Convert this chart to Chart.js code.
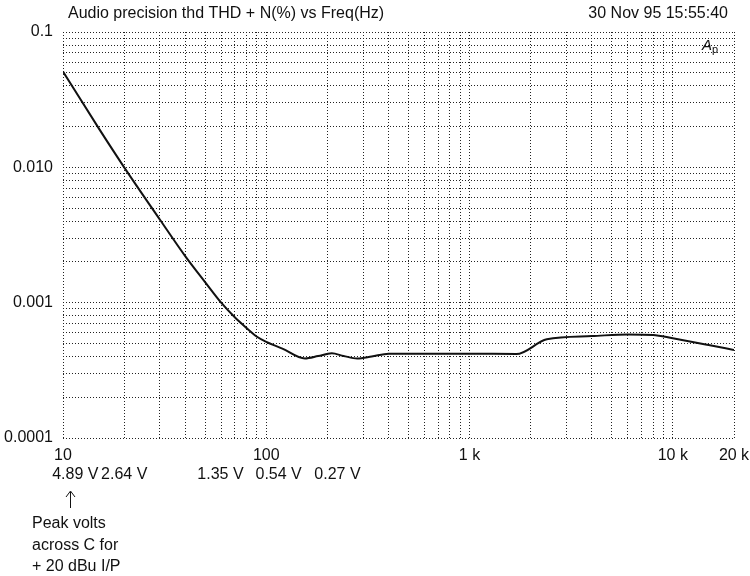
<!DOCTYPE html>
<html>
<head>
<meta charset="utf-8">
<script src="https://cdn.jsdelivr.net/npm/chart.js@4.4.1/dist/chart.umd.min.js"></script>
<style>
  html, body { margin: 0; padding: 0; background: #fff; }
  #wrap { width: 750px; height: 576px; position: relative; }
</style>
</head>
<body>
<div id="wrap"><canvas id="c" width="750" height="576"></canvas></div>
<script>
// ---- Data ----
const freqs = [10, 15, 20, 30, 40, 50, 60, 70, 80, 90, 100, 120, 155, 180, 210, 240, 280, 330, 400, 600, 1000, 1700, 2400, 4000, 6000, 8000, 10000, 15000, 20000];
const thdN  = [0.051, 0.0194, 0.0100, 0.0041, 0.0022, 0.00142, 0.00100, 0.00078, 0.00065, 0.00056, 0.000514, 0.000458, 0.000387, 0.000403, 0.000422, 0.000404, 0.000387, 0.000400, 0.000420, 0.000420, 0.000420, 0.000417, 0.000536, 0.000566, 0.000583, 0.000578, 0.000545, 0.000486, 0.000447];

const xTickValues = [10, 100, 1000, 10000, 20000];
const xTickLabels = ['10', '100', '1 k', '10 k', '20 k'];
const yTickValues = [0.1, 0.01, 0.001, 0.0001];
const yTickLabels = ['0.1', '0.010', '0.001', '0.0001'];

const voltLabels = ['4.89 V', '2.64 V', '1.35 V', '0.54 V', '0.27 V'];
const voltAnchorFreqs = [11.5, 20, 59.5, 115, 224];

const titleLeft = 'Audio precision thd THD + N(%) vs Freq(Hz)';
const titleRight = '30 Nov 95 15:55:40';
const noteLines = ['Peak volts', 'across C for', '+ 20 dBu I/P'];

const FONT = '"Liberation Sans", Arial, Helvetica, sans-serif';
const FS = 16;

function logTicks(min, max) {
  const out = [];
  const e0 = Math.floor(Math.log10(min)), e1 = Math.ceil(Math.log10(max));
  for (let e = e0; e <= e1; e++) {
    for (let m = 1; m <= 9; m++) {
      const v = Number((m * Math.pow(10, e)).toPrecision(6));
      if (v >= min * 0.9999 && v <= max * 1.0001) out.push({ value: v });
    }
  }
  if (!out.some(t => Math.abs(t.value - max) / max < 1e-6)) out.push({ value: max });
  return out;
}
function findLabel(v, vals, labels) {
  for (let i = 0; i < vals.length; i++) {
    if (Math.abs(v - vals[i]) / vals[i] < 1e-6) return labels[i];
  }
  return '';
}

const textPlugin = {
  id: 'texts',
  afterDraw(chart) {
    const ctx = chart.ctx;
    const xs = chart.scales.x;
    const area = chart.chartArea;
    ctx.save();
    ctx.fillStyle = '#111';
    ctx.textBaseline = 'middle';
    ctx.font = FS + 'px ' + FONT;
    ctx.textAlign = 'left';
    ctx.fillText(titleLeft, 68, 14);
    ctx.textAlign = 'right';
    ctx.fillText(titleRight, 728, 14);

    // A_p mark
    ctx.textAlign = 'left';
    ctx.textBaseline = 'alphabetic';
    ctx.font = 'italic 15px ' + FONT;
    ctx.fillText('A', area.right - 32, area.top + 18);
    ctx.font = '11px ' + FONT;
    ctx.fillText('p', area.right - 22, area.top + 21);

    // voltage row
    ctx.font = FS + 'px ' + FONT;
    ctx.textAlign = 'center';
    ctx.textBaseline = 'middle';
    for (let i = 0; i < voltLabels.length; i++) {
      ctx.fillText(voltLabels[i], xs.getPixelForValue(voltAnchorFreqs[i]), area.bottom + 37);
    }

    // arrow
    const ax = Math.round(xs.getPixelForValue(10.8)) + 0.5;
    ctx.strokeStyle = '#111';
    ctx.lineWidth = 1;
    ctx.beginPath();
    ctx.moveTo(ax, area.bottom + 70);
    ctx.lineTo(ax, area.bottom + 54);
    ctx.moveTo(ax - 4.5, area.bottom + 59);
    ctx.lineTo(ax, area.bottom + 53);
    ctx.lineTo(ax + 4.5, area.bottom + 59);
    ctx.stroke();

    // note
    ctx.textAlign = 'left';
    ctx.fillText(noteLines[0], 32, area.bottom + 86);
    ctx.fillText(noteLines[1], 32, area.bottom + 108);
    ctx.fillText(noteLines[2], 32, area.bottom + 129);
    ctx.restore();
  }
};

const gridCommon = {
  color: '#222',
  lineWidth: 1,
  drawTicks: false
};

new Chart(document.getElementById('c'), {
  type: 'line',
  data: {
    datasets: [{
      data: freqs.map((f, i) => ({ x: f, y: thdN[i] })),
      borderColor: '#111',
      borderWidth: 2,
      pointRadius: 0,
      fill: false,
      cubicInterpolationMode: 'monotone'
    }]
  },
  options: {
    responsive: false,
    animation: false,
    events: [],
    layout: { padding: { top: 32, right: 16, left: 0, bottom: 0 } },
    plugins: { legend: { display: false }, tooltip: { enabled: false }, title: { display: false } },
    scales: {
      x: {
        type: 'logarithmic',
        min: 10, max: 20000,
        afterBuildTicks(s) { s.ticks = logTicks(10, 20000); },
        afterFit(s) { s.height = 138; s.paddingLeft = 0; s.paddingRight = 0; },
        grid: gridCommon,
        border: { display: false, dash: [1, 2] },
        ticks: {
          autoSkip: false, maxRotation: 0, minRotation: 0, padding: 8,
          color: '#111', font: { family: FONT, size: FS },
          callback: v => findLabel(v, xTickValues, xTickLabels)
        }
      },
      y: {
        type: 'logarithmic',
        min: 0.0001, max: 0.1,
        afterBuildTicks(s) { s.ticks = logTicks(0.0001, 0.1); },
        afterFit(s) { s.width = 63; s.paddingTop = 0; s.paddingBottom = 0; },
        grid: gridCommon,
        border: { display: false, dash: [1, 2] },
        ticks: {
          autoSkip: false, padding: 10,
          color: '#111', font: { family: FONT, size: FS },
          callback: v => findLabel(v, yTickValues, yTickLabels)
        }
      }
    }
  },
  plugins: [textPlugin]
});
</script>
</body>
</html>
